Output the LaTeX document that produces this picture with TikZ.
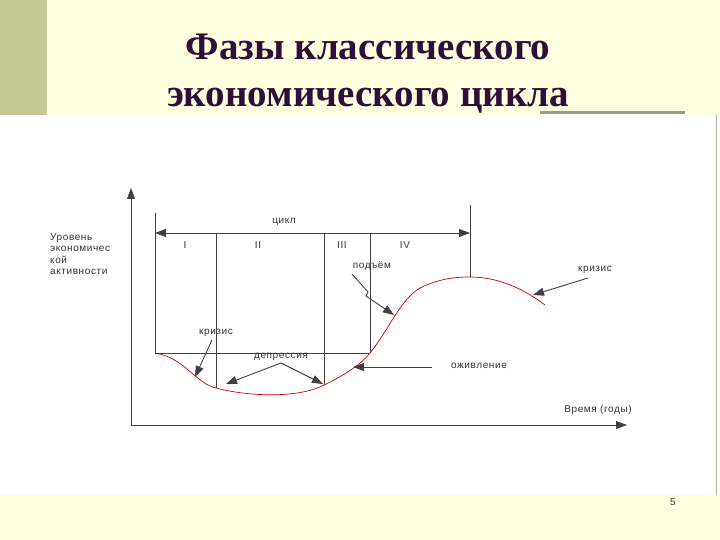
\documentclass[tikz,border=0pt]{standalone}
\usepackage{fontspec}
\setmainfont{Liberation Serif}
\newfontfamily\lab[LetterSpace=6]{Liberation Sans}
\usetikzlibrary{arrows.meta}
\definecolor{cream}{HTML}{FFFFE0}
\definecolor{olive}{HTML}{C8C896}
\definecolor{ttl}{HTML}{2E0F3A}
\tikzset{ln/.style={draw=black!75,line width=0.9pt},
 tip/.style={-{Triangle[length=11pt,width=8pt]}},
 arr/.style={ln,tip},
 lb/.style={font=\lab\fontsize{10}{11.5}\selectfont,inner sep=0pt,text=black!80}}
\begin{document}
\begin{tikzpicture}[x=1pt,y=-1pt]
\useasboundingbox (0,0) rectangle (720,540);
\fill[cream] (0,0) rectangle (720,540);
\fill[olive] (0,0) rectangle (47,115);
\fill[white] (0,115) rectangle (716,495);
\draw[black!30,line width=1pt] (716,115)--(716,495);
\draw[black!40,line width=3pt] (540,113)--(685,113);
\node[font=\bfseries\fontsize{39}{47}\selectfont,text=ttl,align=center] (title) at (368,74) {Фазы классического\\экономического цикла};
% axes
\coordinate (o) at (131,425);
\coordinate (ytop) at (131,188);
\coordinate (xend) at (627,425);
\draw[arr] (o)--(ytop);
\draw[arr] (o)--(xend);
% box
\draw[ln] (155,213)--(155,353)--(370,353);
\draw[ln,{Triangle[length=11pt,width=8pt]}-{Triangle[length=11pt,width=8pt]}] (155,233)--(470,233);
\draw[ln] (470,205)--(470,277);
\draw[ln] (216,233)--(216,388);
\draw[ln] (324,233)--(324,385);
\draw[ln] (370,233)--(370,353);
% curve
\draw[red!80!black,line width=0.7pt] (155,353) .. controls (185,358) and (195,383) .. (216,388)
 .. controls (250,397) and (300,398) .. (324,385)
 .. controls (345,375) and (360,365) .. (370,353)
 .. controls (390,328) and (400,300) .. (420,288)
 .. controls (440,278) and (458,277) .. (470,277)
 .. controls (500,277) and (525,290) .. (545,305);
% labels
\node[lb] (r1) at (185,245) {I};
\node[lb] (r2) at (258,245) {II};
\node[lb] (r3) at (342,245) {III};
\node[lb] (r4) at (405,245) {IV};
\node[lb] (cyc) at (284,222) {цикл};
\node[lb] (up) at (372,266) {подъём};
\node[lb] (kr1) at (216,333) {кризис};
\node[lb] (dep) at (281,357) {депрессия};
\node[lb] (ozh) at (479,366) {оживление};
\node[lb] (kr2) at (595,270) {кризис};
\node[lb] (time) at (598,410) {Время (годы)};
\node[lb,align=left,anchor=north west] (lev) at (50,233) {Уровень\\экономичес\\кой\\активности};
\node[lb] (pg) at (673,502) {5};
% pointers
\coordinate (a1) at (195,377);
\coordinate (a2) at (226,384);
\coordinate (a3) at (323,384);
\coordinate (a4) at (394,315);
\coordinate (a5) at (353,367);
\coordinate (a6) at (533,295);
\draw[arr] (212,340)--(a1);
\draw[arr] (281,363)--(a2);
\draw[arr] (281,363)--(a3);
\draw[arr] (352,274)--(368,292)--(366,296)--(a4);
\draw[arr] (432,367)--(a5);
\draw[arr] (588,278)--(a6);
\end{tikzpicture}
\end{document}
